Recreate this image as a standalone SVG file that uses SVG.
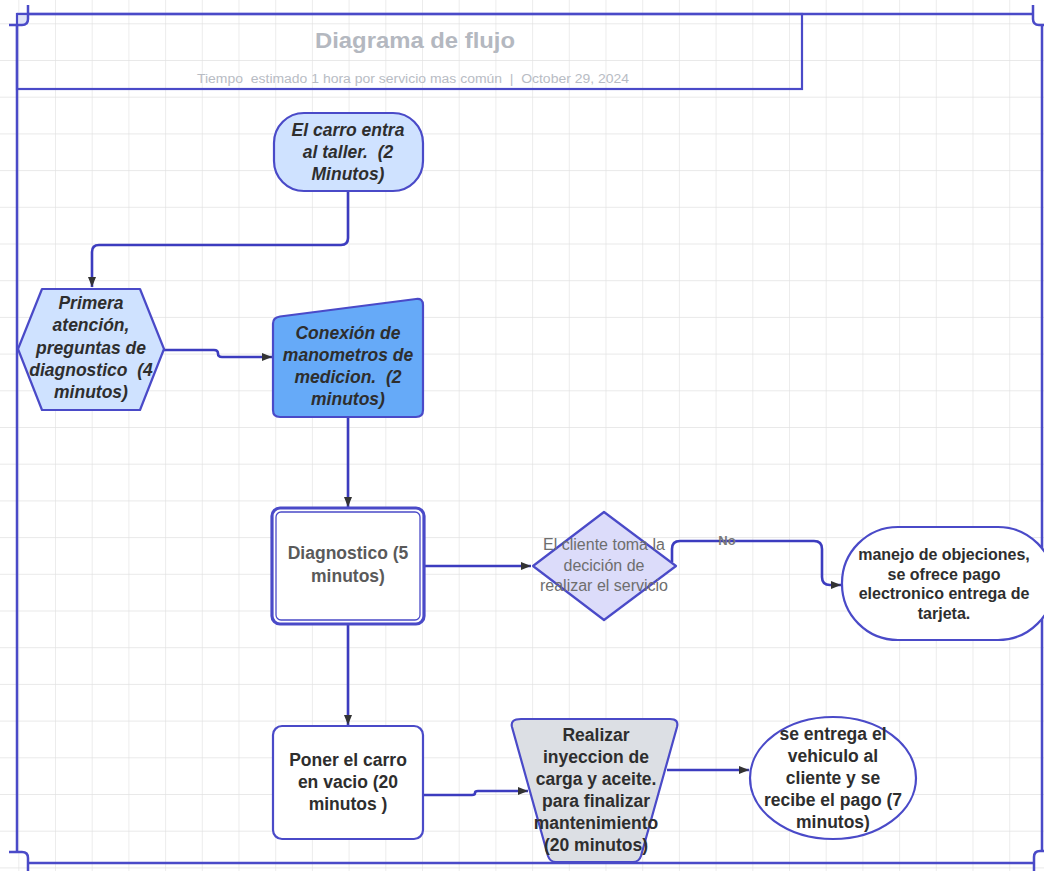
<svg xmlns="http://www.w3.org/2000/svg" width="1044" height="871" viewBox="0 0 1044 871">
<style>
.node{stroke:#4a4ac8;stroke-width:2.2}
.conn{fill:none;stroke:#3c3cbf;stroke-width:2.6;stroke-linejoin:round}
.frame{fill:none;stroke:#4a4ac8;stroke-width:2.5}
.t{font-family:"Liberation Sans",Arial,sans-serif;font-size:17.5px;font-weight:bold;fill:#2e2e2e;text-anchor:middle}
.ti{font-style:italic}
.g{fill:#5a5a5a}
.d{font-weight:normal;font-size:16px;fill:#6e6e6e}
.m{font-size:16px}
</style>
<defs>
<pattern id="grid" x="18.3" y="23.3" width="36.7" height="36.7" patternUnits="userSpaceOnUse">
<path d="M0,0 H36.7 M0,0 V36.7" fill="none" stroke="#e2e2e2" stroke-width="1.3"/>
</pattern>
<marker id="arr" markerUnits="userSpaceOnUse" markerWidth="11" markerHeight="9" refX="10" refY="4.5" orient="auto">
<path d="M0,0.5 L10,4.5 L0,8.5 z" fill="#333"/>
</marker>
</defs>
<rect width="1044" height="871" fill="#ffffff"/>
<rect width="1044" height="871" fill="url(#grid)"/>

<g id="frame">
<rect x="17" y="12" width="11" height="13" fill="#dfe3f7"/>
<path class="frame" d="M17,25 V852"/>
<path class="frame" d="M28,14 H1033"/>
<path class="frame" d="M1042,25 V851"/>
<path class="frame" d="M28,863 H1034"/>
<path class="frame" d="M9,25 H22 Q28,25 28,19 V5"/>
<path class="frame" d="M1033,5 V19 Q1033,25 1039,25 H1044"/>
<path class="frame" d="M9,852 H22 Q28,852 28,858 V871"/>
<path class="frame" d="M1034,871 V857 Q1034,851 1040,851 H1044"/>
</g>

<g id="title">
<rect x="17" y="14" width="785" height="75" fill="none" stroke="#4a4ac8" stroke-width="2.2"/>
<text x="415" y="48" font-family="'Liberation Sans',Arial,sans-serif" font-size="22" font-weight="bold" fill="#b4b8c0" text-anchor="middle" textLength="200" lengthAdjust="spacingAndGlyphs">Diagrama de flujo</text>
<text x="413" y="83" font-family="'Liberation Sans',Arial,sans-serif" font-size="12.5" fill="#b8bcc4" text-anchor="middle" textLength="432" lengthAdjust="spacingAndGlyphs" xml:space="preserve">Tiempo  estimado 1 hora por servicio mas común  |  October 29, 2024</text>
</g>

<g id="connectors">
<path class="conn" marker-end="url(#arr)" d="M348,191 V238 Q348,245 341,245 H99 Q92,245 92,252 V287"/>
<path class="conn" marker-end="url(#arr)" d="M164,350 H214 Q218,350 218,353.5 Q218,357 222,357 H272"/>
<path class="conn" marker-end="url(#arr)" d="M348,417 V507"/>
<path class="conn" marker-end="url(#arr)" d="M425,566 H531"/>
<path class="conn" marker-end="url(#arr)" d="M672,562 V549 Q672,541 680,541 H814 Q822,541 822,549 V577 Q822,585 830,585 H841"/>
<path class="conn" marker-end="url(#arr)" d="M348,624 V725"/>
<path class="conn" marker-end="url(#arr)" d="M423,795 H472 Q475,795 475,793 Q475,791 478,791 H528"/>
<path class="conn" marker-end="url(#arr)" d="M667,770 H749"/>
<text x="727" y="545" font-family="'Liberation Sans',Arial,sans-serif" font-size="13" font-weight="bold" fill="#777" text-anchor="middle">No</text>
</g>

<g id="n1">
<rect class="node" x="274" y="113" width="149" height="78" rx="30" fill="#cfe2ff"/>
<text class="t ti" x="348" xml:space="preserve"><tspan x="348" y="136">El carro entra</tspan><tspan x="348" y="158">al taller.  (2</tspan><tspan x="348" y="180">Minutos)</tspan></text>
</g>

<g id="n2">
<polygon class="node" points="18,349 42,289 140,289 164,349 140,410 42,410" fill="#cfe2ff" stroke-linejoin="round"/>
<text class="t ti" x="91" xml:space="preserve"><tspan x="91" y="309">Primera</tspan><tspan x="91" y="331">atención,</tspan><tspan x="91" y="354">preguntas de</tspan><tspan x="91" y="376">diagnostico  (4</tspan><tspan x="91" y="398">minutos)</tspan></text>
</g>

<g id="n3">
<path class="node" d="M280,316.5 L416,299 Q423,298 423,305 V410 Q423,417 416,417 H280 Q273,417 273,410 V323.5 Q273,317.5 280,316.5 Z" fill="#66aaf8"/>
<text class="t ti" x="348" xml:space="preserve"><tspan x="348" y="339">Conexión de</tspan><tspan x="348" y="361">manometros de</tspan><tspan x="348" y="383">medicion.  (2</tspan><tspan x="348" y="405">minutos)</tspan></text>
</g>

<g id="n4">
<rect x="272" y="508" width="152" height="116" rx="8" fill="#ffffff" stroke="#4a4ac8" stroke-width="3.2"/>
<rect x="276" y="512" width="144" height="108" rx="5" fill="none" stroke="#4a4ac8" stroke-width="1.3"/>
<text class="t g"><tspan x="348" y="559">Diagnostico (5</tspan><tspan x="348" y="582">minutos)</tspan></text>
</g>

<g id="n5">
<polygon class="node" points="533,566 604,512 676,566 604,620" fill="#dcdcfa" stroke-linejoin="round"/>
<text class="t d"><tspan x="604" y="550">El cliente toma la</tspan><tspan x="604" y="571">decición de</tspan><tspan x="604" y="591">realizar el servicio</tspan></text>
</g>

<g id="n6">
<rect class="node" x="842" y="527" width="212" height="113" rx="56" fill="#ffffff"/>
<text class="t m"><tspan x="944" y="560">manejo de objeciones,</tspan><tspan x="944" y="580">se ofrece pago</tspan><tspan x="944" y="599">electronico entrega de</tspan><tspan x="944" y="619">tarjeta.</tspan></text>
</g>

<g id="n7">
<rect class="node" x="273" y="726" width="150" height="113" rx="9" fill="#ffffff"/>
<text class="t"><tspan x="348" y="766">Poner el carro</tspan><tspan x="348" y="788">en vacio (20</tspan><tspan x="348" y="810">minutos )</tspan></text>
</g>

<g id="n8">
<path class="node" d="M521,719 H670 Q679,719 677,727 L641,856 Q639,862 633,862 H556 Q550,862 548,856 L512,727 Q510,719 521,719 Z" fill="#dcdfe4"/>
<text class="t"><tspan x="596" y="741">Realizar</tspan><tspan x="596" y="763">inyeccion de</tspan><tspan x="596" y="785">carga y aceite.</tspan><tspan x="596" y="807">para finalizar</tspan><tspan x="596" y="829">mantenimiento</tspan><tspan x="596" y="851">(20 minutos)</tspan></text>
</g>

<g id="n9">
<ellipse class="node" cx="833" cy="778" rx="83" ry="61" fill="#ffffff"/>
<text class="t"><tspan x="833" y="740">se entrega el</tspan><tspan x="833" y="762">vehiculo al</tspan><tspan x="833" y="784">cliente y se</tspan><tspan x="833" y="806">recibe el pago (7</tspan><tspan x="833" y="828">minutos)</tspan></text>
</g>
</svg>
